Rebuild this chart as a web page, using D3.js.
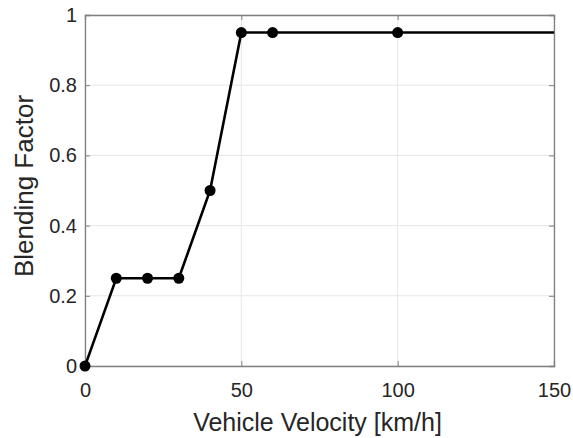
<!DOCTYPE html>
<html lang="en">
<head>
    <meta charset="utf-8" />
    <title>Blending Factor</title>
    <script src="https://d3js.org/d3.v7.min.js"></script>
    <style>
        body { margin: 0; background: #fff; }
        text { font-family: "Liberation Sans", Arial, sans-serif; }
    </style>
</head>
<body>
    <svg></svg>
    <script>
        let width = 573, height = 438;

        // data
        const velocity = [0, 10, 20, 30, 40, 50, 60, 100, 200];
        const blending = [0, 0.25, 0.25, 0.25, 0.5, 0.95, 0.95, 0.95, 0.95];
        const xTicks = [0, 50, 100, 150];
        const yTicks = [0, 0.2, 0.4, 0.6, 0.8, 1];

        const plotLeft = 85, plotRight = 554, plotTop = 15, plotBottom = 366;

        let svg = d3.select("svg")
            .attr("width", width)
            .attr("height", height);

        let x = d3.scaleLinear().domain([0, 150]).range([plotLeft, plotRight]);
        let y = d3.scaleLinear().domain([0, 1]).range([plotBottom, plotTop]);

        svg.append("defs").append("clipPath").attr("id", "plotclip")
            .append("rect")
            .attr("x", plotLeft).attr("y", plotTop)
            .attr("width", plotRight - plotLeft).attr("height", plotBottom - plotTop);

        // grid
        let grid = svg.append("g");
        grid.selectAll(".gx").data(xTicks).enter().append("line")
            .attr("x1", d => x(d)).attr("x2", d => x(d))
            .attr("y1", plotTop).attr("y2", plotBottom)
            .attr("stroke", "#e6e6e6").attr("stroke-width", 1);
        grid.selectAll(".gy").data(yTicks).enter().append("line")
            .attr("x1", plotLeft).attr("x2", plotRight)
            .attr("y1", d => y(d)).attr("y2", d => y(d))
            .attr("stroke", "#e6e6e6").attr("stroke-width", 1);

        // axes with inward ticks (box style)
        const tickLen = 5;
        let axisColor = "#808080";
        let xb = svg.append("g").attr("transform", "translate(0," + plotBottom + ")")
            .call(d3.axisBottom(x).tickValues(xTicks).tickSize(-tickLen).tickPadding(17).tickFormat(d3.format("d")));
        let xt = svg.append("g").attr("transform", "translate(0," + plotTop + ")")
            .call(d3.axisTop(x).tickValues(xTicks).tickSize(-tickLen).tickFormat(""));
        let yl = svg.append("g").attr("transform", "translate(" + plotLeft + ",0)")
            .call(d3.axisLeft(y).tickValues(yTicks).tickSize(-tickLen).tickPadding(8).tickFormat(d => d3.format("~g")(d)));
        let yr = svg.append("g").attr("transform", "translate(" + plotRight + ",0)")
            .call(d3.axisRight(y).tickValues(yTicks).tickSize(-tickLen).tickFormat(""));

        [xb, xt, yl, yr].forEach(g => {
            g.select(".domain").attr("stroke", axisColor).attr("stroke-width", 1.3);
            g.selectAll(".tick line").attr("stroke", axisColor).attr("stroke-width", 1);
            g.selectAll(".tick text").attr("fill", "#262626").style("font-size", "20px");
        });

        // line
        let pts = velocity.map((v, i) => [v, blending[i]]);
        svg.append("path")
            .datum(pts)
            .attr("clip-path", "url(#plotclip)")
            .attr("fill", "none")
            .attr("stroke", "#000")
            .attr("stroke-width", 2.6)
            .attr("d", d3.line().x(d => x(d[0])).y(d => y(d[1])));

        // markers (not clipped, only those inside the x range)
        svg.selectAll(".pt").data(pts.filter(d => d[0] <= 150)).enter().append("circle")
            .attr("cx", d => x(d[0])).attr("cy", d => y(d[1]))
            .attr("r", 5.5)
            .attr("fill", "#000");

        // labels
        svg.append("text")
            .attr("x", (plotLeft + plotRight) / 2 - 2).attr("y", 431)
            .attr("text-anchor", "middle")
            .attr("fill", "#262626")
            .style("font-size", "25px")
            .text("Vehicle Velocity [km/h]");

        svg.append("text")
            .attr("transform", "translate(33,186) rotate(-90)")
            .attr("text-anchor", "middle")
            .attr("fill", "#262626")
            .style("font-size", "26px")
            .text("Blending Factor");
    </script>
</body>
</html>
